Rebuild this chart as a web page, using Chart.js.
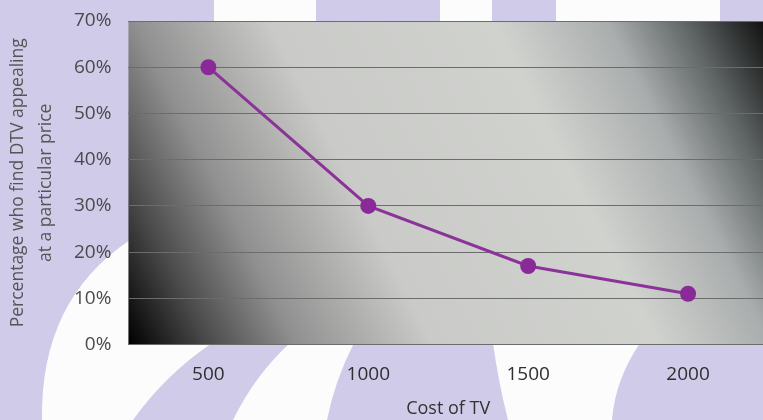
<!DOCTYPE html>
<html>
<head>
<meta charset="utf-8">
<script src="https://cdn.jsdelivr.net/npm/chart.js@4"></script>
<style>
  html, body { margin: 0; padding: 0; overflow: hidden; background: #d0cbe9; }
  #wrap { width: 768px; height: 420px; position: relative; }
</style>
</head>
<body>
<div id="wrap"><canvas id="chart"></canvas></div>
<script>
// DATA
const cost_labels = ["500", "1000", "1500", "2000"];
const appeal_values = [60, 30, 17, 11];
const y_ticks = [0, 10, 20, 30, 40, 50, 60, 70];

const x_title = "Cost of TV";
const y_title = ["Percentage who find DTV appealing", "at a particular price"];

// BACKGROUND: lavender page with white swirls, grey gradient in plot
const backdrop = {
  id: "backdrop",
  beforeDraw(chart) {
    const { ctx, chartArea: a, width, height } = chart;
    ctx.save();
    ctx.fillStyle = "#d0cbe9";
    ctx.fillRect(0, 0, width, height);

    ctx.fillStyle = "#fcfcfd";
    // bottom left blob
    ctx.beginPath();
    ctx.moveTo(130, 240);
    ctx.quadraticCurveTo(40, 300, 42, 420);
    ctx.lineTo(133, 420);
    ctx.quadraticCurveTo(165, 375, 212, 343);
    ctx.lineTo(130, 343);
    ctx.closePath();
    ctx.fill();
    // band under 500-1000
    ctx.beginPath();
    ctx.moveTo(290, 343);
    ctx.lineTo(354, 343);
    ctx.quadraticCurveTo(335, 380, 327, 420);
    ctx.lineTo(233, 420);
    ctx.quadraticCurveTo(255, 375, 290, 343);
    ctx.fill();
    // band under 1500
    ctx.beginPath();
    ctx.moveTo(493, 343);
    ctx.lineTo(640, 343);
    ctx.quadraticCurveTo(615, 380, 612, 420);
    ctx.lineTo(508, 420);
    ctx.quadraticCurveTo(498, 380, 493, 343);
    ctx.fill();
    // top strips
    ctx.fillRect(214, 0, 102, 25);
    ctx.fillRect(440, 0, 52, 25);
    ctx.fillRect(556, 0, 164, 25);

    // plot area gradient
    const g = ctx.createLinearGradient(a.left, a.bottom, a.right, a.top);
    g.addColorStop(0, "#000000");
    g.addColorStop(0.1, "#4a4a4a");
    g.addColorStop(0.21, "#909090");
    g.addColorStop(0.38, "#cacbc8");
    g.addColorStop(0.66, "#d0d2ce");
    g.addColorStop(0.8, "#a9adad");
    g.addColorStop(0.9, "#5d6262");
    g.addColorStop(1, "#0c0c0c");
    ctx.fillStyle = g;
    ctx.fillRect(a.left, a.top, a.right - a.left, a.bottom - a.top);
    ctx.restore();
  },
};

const ctx = document.getElementById("chart").getContext("2d");

new Chart(ctx, {
  type: "line",
  data: {
    labels: cost_labels,
    datasets: [
      {
        data: appeal_values,
        borderColor: "#8b3399",
        backgroundColor: "#8a2a98",
        borderWidth: 3,
        pointRadius: 8,
        pointBorderWidth: 0,
        tension: 0,
      },
    ],
  },
  options: {
    responsive: true,
    maintainAspectRatio: false,
    animation: false,
    layout: { autoPadding: false, padding: { top: 21, right: 0, bottom: 0, left: 0 } },
    plugins: {
      legend: { display: false },
      tooltip: { enabled: false },
    },
    scales: {
      x: {
        offset: true,
        grid: { display: false, drawTicks: false },
        border: { display: false },
        ticks: {
          padding: 19,
          color: "#2e2e2e",
          font: { family: "Open Sans", size: 19 },
        },
        title: {
          display: true,
          text: x_title,
          color: "#333333",
          padding: { top: -7, bottom: 0 },
          font: { family: "Open Sans", size: 18 },
        },
      },
      y: {
        min: 0,
        max: 70,
        afterBuildTicks(scale) {
          scale.ticks = y_ticks.map((v) => ({ value: v }));
        },
        // tick marks kept invisible, they only add the gap before the labels
        grid: { color: "#6c6c6c", lineWidth: 1, drawTicks: true, tickLength: 8, tickColor: "rgba(0,0,0,0)" },
        border: { display: false },
        ticks: {
          padding: 9,
          color: "#4a4a4a",
          font: { family: "Open Sans", size: 19 },
          callback: (v) => v + "%",
        },
        title: {
          display: true,
          text: y_title,
          color: "#555555",
          padding: { top: 4, bottom: 5 },
          font: { family: "Open Sans", size: 17.5, lineHeight: 1.6 },
        },
      },
    },
  },
  plugins: [backdrop],
});
</script>
</body>
</html>
